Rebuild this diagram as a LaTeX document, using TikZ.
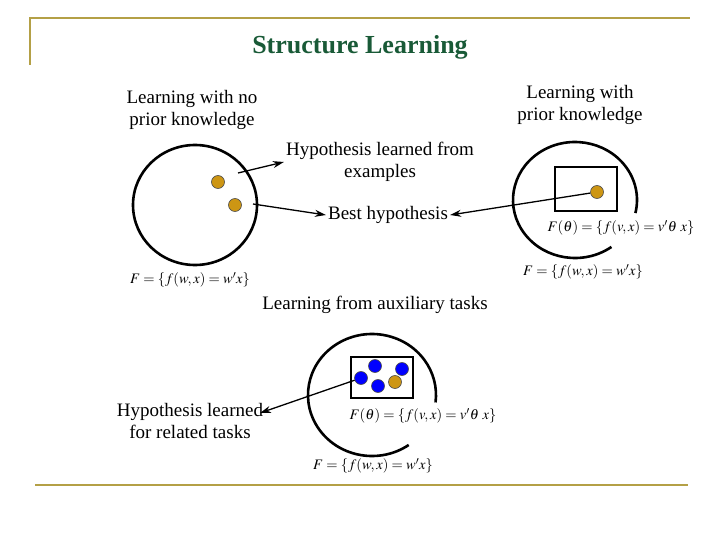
\documentclass[tikz,border=0pt]{standalone}
\usepackage{amsmath}
\usepackage{mathptmx}
\usepackage{fontspec}
\setmainfont{Liberation Serif}
\usetikzlibrary{arrows,arrows.meta,positioning}
\definecolor{framegold}{RGB}{180,160,70}
\definecolor{titlegreen}{RGB}{25,90,55}
\definecolor{dotgold}{RGB}{205,150,20}

\begin{document}
\begin{tikzpicture}
	[x=1pt,y=-1pt,font=\fontsize{19}{22}\selectfont,
	txt/.style={align=center,inner sep=2pt},
	fml/.style={font=\fontsize{14.5}{16}\selectfont,inner sep=1pt},
	hyp/.style={shape=circle,draw=black!70,fill=dotgold,minimum
		width=13pt,inner sep=0pt,line width=.6pt},
	task/.style={hyp,fill=blue},
	space/.style={line width=2.6pt},
	box/.style={draw,line width=1.8pt},
	link/.style={-{Stealth[length=11pt,width=7pt]},line width=1.3pt},
	rule/.style={draw=framegold,line width=2pt}]
	\useasboundingbox (0,0) rectangle (720,540);
	\draw [rule] (30,65) -- (30,18) -- (690,18);
	\draw [rule] (35,485) -- (688,485);
	\node (title) at (360,47) {\fontsize{26}{30}\selectfont\bfseries\color{titlegreen}Structure Learning};
	
	% no prior knowledge
	\draw [space] (195,205) ellipse [x radius=62,y radius=60];
	\node (h1) [hyp] at (218,182) {};
	\node (h2) [hyp] at (235,205) {};
	\coordinate (s1) at (238,173);
	\coordinate (s2) at (253,204);
	\node (fw1) [fml] at (190,280) {$F=\{f(w,x)=w'x\}$};
	
	% prior knowledge
	\draw [space] (575,200) ++(54:62 and 58) arc [start angle=54,end angle=373,x radius=62,y radius=58];
	\draw [box] (555,167) rectangle (617,211);
	\node (h3) [hyp] at (597,192) {};
	\node (ft2) [fml] at (621,228) {$F(\theta)=\{f(v,x)=v'\theta\ x\}$};
	\node (fw2) [fml] at (583,272) {$F=\{f(w,x)=w'x\}$};
	
	% auxiliary tasks
	\draw [space] (372,395) ++(55:64 and 61) arc [start angle=55,end angle=367,x radius=64,y radius=61];
	\draw [box] (351,357) rectangle (413,398);
	\node (b1) [task] at (361,378) {};
	\node (b2) [task] at (375,366) {};
	\node (b3) [task] at (402,369) {};
	\node (b4) [task] at (378,386) {};
	\node (h4) [hyp] at (395,382) {};
	\node (ft3) [fml] at (423,416) {$F(\theta)=\{f(v,x)=v'\theta\ x\}$};
	\node (fw3) [fml] at (373,466) {$F=\{f(w,x)=w'x\}$};
	
	\node (noprior) [txt] at (192,110) {Learning with no\\prior knowledge};
	\node (withprior) [txt] at (580,105) {Learning with\\prior knowledge};
	\node (learned) [txt] at (380,162) {Hypothesis learned from\\examples};
	\node (best) [txt] at (388,215) {Best hypothesis};
	\node (aux) [txt] at (375,305) {Learning from auxiliary tasks};
	\node (related) [txt] at (190,421) {Hypothesis learned\\for related tasks};
	\coordinate (r1) at (260,413);
	
	\draw [link] (s1) to (learned.west);
	\draw [link] (s2) to (best.west);
	\draw [link] (h3) to (best.east);
	\draw [link] (b1) to (r1);
\end{tikzpicture}
\end{document}
